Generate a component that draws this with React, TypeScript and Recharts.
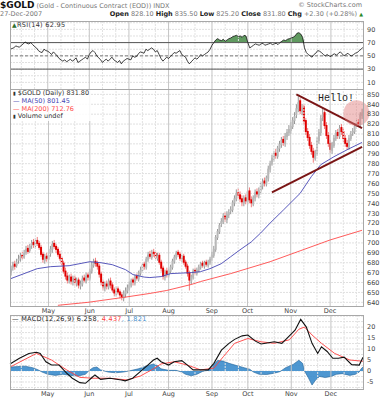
import React from 'react';
import { ComposedChart, Bar, Line, Area, XAxis, YAxis, CartesianGrid, ReferenceLine, ReferenceDot } from 'recharts';

// trading-day index of each month start shown on the x axis
const monthTicks = [20, 42, 63, 84, 107, 126, 149, 170];
const monthNames = ['May', 'Jun', 'Jul', 'Aug', 'Sep', 'Oct', 'Nov', 'Dec'];
const minorDays = [6, 13, 27, 34, 49, 56, 70, 77, 91, 98, 114, 121, 133, 140, 156, 163, 177, 184];

const priceTicks = [640, 650, 660, 670, 680, 690, 700, 710, 720, 730, 740, 750, 760, 770, 780, 790, 800, 810, 820, 830, 840, 850];
const rsiTicks = [10, 30, 50, 70, 90];
const rsiGrid = [10, 20, 30, 40, 50, 60, 70, 80, 90, 100];
const macdTicks = [-5, 0, 5, 10, 15, 20];
const macdGrid = [-7.5, -5, -2.5, 0, 2.5, 5, 7.5, 10, 12.5, 15, 17.5, 20, 22.5, 25];

// daily candles, Apr 2 .. Dec 27 2007
const opens = [
  670, 675, 679, 677, 682, 684, 688, 686, 690, 695, 692, 697, 701, 697, 703, 700, 696, 689, 682, 687,
  683, 689, 693, 700, 697, 694, 689, 685, 680, 672, 667, 661, 666, 660, 665, 659, 663, 656, 658, 665, 661, 668,
  664, 671, 677, 682, 680, 677, 669, 661, 654, 659, 655, 662, 658, 653, 648, 654, 651, 648, 644, 648, 651,
  654, 657, 663, 659, 667, 663, 669, 672, 679, 675, 683, 689, 685, 691, 690, 684, 688, 681, 675, 665, 672,
  667, 671, 675, 681, 685, 691, 689, 683, 687, 681, 677, 670, 661, 665, 673, 669, 672, 675, 680, 676, 681, 677, 680,
  685, 687, 693, 705, 711, 719, 721, 728, 723, 728, 732, 733, 740, 744, 751, 749, 745, 740, 746,
  741, 753, 744, 739, 745, 752, 748, 752, 757, 763, 759, 765, 774, 781, 785, 791, 787, 795, 799, 805, 800, 807, 811,
  813, 817, 823, 829, 835, 844, 832, 838, 824, 813, 807, 799, 793, 785, 791, 803, 811, 827, 832, 819, 809,
  801, 793, 798, 805, 812, 807, 817, 813, 806, 801, 796, 805, 811, 812, 817, 822, 819, 828.1,
];
const highs = [
  677, 681, 682, 684, 688, 690, 691, 693, 697, 698, 699, 703, 704, 705, 706, 702, 698, 691, 689, 690,
  691, 697, 702, 703, 699, 696, 692, 687, 682, 675, 670, 668, 669, 667, 667, 665, 665, 662, 667, 668, 670, 670,
  674, 681, 684, 685, 682, 679, 671, 663, 661, 662, 664, 665, 660, 655, 656, 656, 653, 650, 652, 655, 658,
  661, 664, 665, 668, 669, 672, 676, 680, 681, 686, 691, 692, 693, 694, 692, 690, 690, 683, 677, 673, 675,
  674, 678, 684, 688, 692, 693, 691, 688, 689, 683, 679, 672, 668, 674, 675, 675, 678, 681, 682, 682, 683, 683, 686,
  691, 697, 708, 714, 720, 725, 730, 731, 732, 734, 737, 743, 748, 754, 755, 752, 748, 748, 749,
  761, 756, 747, 748, 754, 755, 756, 761, 765, 766, 768, 778, 783, 789, 793, 795, 798, 803, 807, 808, 811, 815, 819,
  822, 827, 832, 840, 848, 846, 840, 840, 826, 816, 810, 802, 796, 794, 807, 815, 829, 837, 834, 822, 812,
  804, 802, 809, 814, 815, 819, 820, 816, 809, 804, 809, 813, 816, 821, 824, 825, 832, 835.5,
];
const lows = [
  667, 672, 673, 675, 679, 681, 683, 684, 688, 689, 690, 694, 695, 694, 697, 693, 686, 680, 679, 681,
  680, 686, 690, 694, 690, 686, 682, 677, 669, 663, 659, 659, 658, 657, 657, 656, 654, 653, 656, 660, 659, 662,
  662, 669, 675, 676, 673, 665, 657, 652, 651, 653, 653, 654, 650, 646, 646, 648, 644, 642, 641, 645, 649,
  652, 655, 657, 657, 662, 661, 667, 670, 673, 673, 681, 684, 683, 686, 683, 682, 678, 671, 663, 662, 665,
  665, 669, 673, 679, 683, 686, 682, 681, 678, 674, 666, 652, 658, 663, 668, 667, 670, 673, 675, 674, 676, 675, 678,
  682, 685, 691, 703, 709, 716, 719, 721, 720, 725, 729, 731, 737, 742, 745, 741, 737, 737, 739,
  738, 740, 736, 737, 742, 746, 745, 749, 754, 757, 757, 762, 771, 778, 782, 785, 785, 792, 796, 798, 797, 804, 808,
  810, 815, 820, 826, 832, 830, 829, 819, 809, 803, 795, 789, 781, 783, 788, 800, 808, 823, 815, 805, 797,
  791, 790, 796, 803, 805, 805, 809, 802, 797, 794, 794, 803, 808, 810, 815, 817, 817, 825.2,
];
const closes = [
  674, 678, 676, 681, 684, 687, 685, 690, 694, 691, 697, 700, 698, 702, 699, 695, 688, 683, 686, 684,
  688, 694, 699, 696, 693, 688, 684, 679, 671, 666, 662, 665, 661, 664, 660, 662, 657, 659, 664, 662, 667, 665,
  672, 678, 681, 679, 676, 668, 660, 655, 658, 656, 661, 657, 652, 649, 653, 650, 647, 645, 649, 652, 655,
  658, 662, 660, 666, 664, 670, 673, 678, 676, 684, 688, 686, 690, 689, 685, 687, 680, 674, 666, 671, 668,
  672, 676, 682, 686, 690, 688, 684, 686, 680, 676, 669, 662, 666, 672, 670, 673, 676, 679, 677, 680, 678, 681, 684,
  688, 694, 706, 712, 718, 722, 727, 724, 729, 731, 734, 741, 745, 750, 748, 744, 741, 745, 742,
  752, 743, 740, 746, 751, 749, 753, 758, 762, 760, 766, 775, 780, 786, 790, 788, 796, 800, 804, 801, 808, 812, 815,
  818, 824, 828, 836, 842, 833, 836, 822, 812, 806, 798, 792, 786, 790, 804, 812, 826, 830, 818, 808, 800,
  794, 799, 806, 811, 808, 816, 812, 805, 800, 797, 806, 810, 813, 818, 821, 820, 829.5, 831.8,
];

const rsiValues = [
  60, 61, 62, 65, 64, 63, 66, 68, 71, 69, 68, 70, 67, 64, 62, 58, 56, 55, 60, 58,
  57, 55, 52, 56, 53, 50, 46, 44, 42, 44, 41, 43, 45, 42, 44, 47, 40, 42, 44, 46, 48, 45,
  52, 56, 58, 55, 50, 47, 44, 40, 43, 45, 42, 45, 48, 44, 42, 40, 43, 38, 42, 44, 46,
  45, 44, 50, 48, 49, 53, 56, 55, 54, 60, 58, 60, 62, 60, 56, 58, 52, 46, 42, 45, 48,
  46, 49, 52, 55, 54, 56, 58, 52, 50, 48, 42, 38, 41, 44, 47, 45, 48, 52, 50, 52, 54, 56, 60,
  66, 70, 74, 76, 74, 73, 75, 72, 74, 76, 77, 79, 80, 81, 79, 80, 78, 81, 80,
  70, 62, 64, 66, 68, 67, 66, 68, 69, 66, 67, 68, 69, 67, 68, 69, 67, 70, 72, 74, 73, 75, 76,
  77, 78, 80, 84, 85, 83, 78, 62, 55, 52, 50, 48, 52, 54, 58, 57, 55, 52, 50, 52, 50,
  49, 52, 53, 51, 54, 56, 53, 50, 52, 54, 51, 50, 52, 54, 55, 58, 60, 62.95,
];

// [day index, value]
const ma50Pts = [[0, 664], [14, 674], [21, 676], [31, 677], [42, 681], [48, 680], [54, 678], [61, 673], [65, 668], [71, 665.5], [74, 665], [80, 666], [85, 669], [96, 670], [101, 671], [106, 674], [112, 679], [117, 686], [122, 693], [128, 701], [133, 710], [138, 720], [145, 733], [154, 750], [160, 767], [165, 779], [172, 787], [180, 795], [187, 801.45]];
const ma200Pts = [[25, 637], [41, 640], [60, 645], [74, 649], [83, 652], [96, 658], [101, 661], [117, 669], [138, 681], [154, 692], [170, 703], [187, 712.76]];
const macdPts = [[0, 3.2], [5, 5.8], [10, 8], [14, 8.5], [16, 8], [19, 4.2], [22, 2.7], [26, 2.7], [30, -1], [33, -3.3], [37, -5.3], [40, -5.6], [43, -3.3], [45, -1.8], [48, -3.8], [53, -3.3], [59, -4.1], [61, -4.5], [65, -3.3], [69, -0.3], [73, 2.7], [76, 5], [78, 5.8], [80, 4.2], [84, 2.7], [87, 4.2], [91, 4.7], [94, 2.7], [97, 0.5], [101, 0.5], [105, 0.5], [108, 3.5], [112, 9.5], [116, 12.6], [119, 14.4], [123, 16], [126, 16.4], [130, 13.6], [133, 12.3], [137, 12.9], [140, 13.3], [144, 12.6], [148, 16], [151, 18.6], [154, 23.5], [157, 20], [160, 12.6], [163, 8], [165, 11], [168, 8.9], [171, 5.8], [174, 5.8], [177, 6.3], [181, 2.9], [185, 2.7], [187, 6.258]];
const signalPts = [[0, 1.8], [14, 8], [22, 5], [30, 0.5], [37, -2.9], [44, -3.3], [53, -3.3], [62, -4.1], [69, -2.3], [75, 0.5], [80, 3.2], [87, 4.2], [94, 2.7], [101, 0.5], [108, 1.3], [113, 6.5], [119, 12.6], [126, 14.8], [133, 13.3], [140, 12.6], [148, 14.2], [153, 19], [156, 20], [160, 16.4], [165, 12.6], [172, 8], [180, 5], [187, 4.437]];
const histPts = [[0, 1.8], [4, 2], [8, 2.2], [12, 1.5], [15, 0.5], [17, -0.5], [20, -1.5], [24, -2], [28, -1.5], [32, -2], [36, -2.3], [40, -1.5], [42, 0.3], [44, 1.5], [46, 1.8], [48, 0.5], [52, -0.5], [56, -0.8], [60, -0.5], [64, 0.2], [68, 1], [72, 2.2], [76, 3.2], [78, 2.5], [80, 1], [84, 0.3], [88, 0.3], [91, -0.5], [93, -1.5], [96, -2.2], [99, -1.5], [102, -0.2], [105, 0.5], [108, 3], [110, 4.8], [113, 4.5], [116, 3.5], [120, 2.5], [124, 1.5], [127, 0.8], [129, -0.5], [132, -1.5], [136, -1.6], [140, -1], [143, -0.3], [146, 1.5], [150, 3], [153, 4.9], [155, 3.5], [156, 0], [158, -3], [160, -6.4], [162, -4], [164, -2.5], [167, -3], [170, -2.5], [173, -1.5], [176, -1.2], [180, -2], [183, -1.5], [185, -0.5], [186, 1], [187, 1.821]];

// triangle trendlines and the circled area
const upperTrend = [[152, 850], [187, 816]];
const lowerTrend = [[139, 751], [187, 797]];
const circleAt = [184, 831];

type Row = { [k: string]: number | undefined };
const rows: Row[] = closes.map((c, i) => ({
  i, o: opens[i], h: highs[i], l: lows[i], c, prev: i ? closes[i - 1] : opens[i], rsi: rsiValues[i],
}));
const put = (pts: number[][], key: string) => pts.forEach(([i, v]) => { rows[i][key] = v; });
put(ma50Pts, 'ma50');
put(ma200Pts, 'ma200');
put(macdPts, 'macd');
put(signalPts, 'signal');
put(histPts, 'hist');

const FONT = '"DejaVu Sans", Verdana, sans-serif';
const tickStyle = { fontSize: 6.5, fill: '#444', fontFamily: FONT };
const monthLabel = (v: number) => monthNames[monthTicks.indexOf(v)] ?? '';

const Candle = (props: any) => {
  const { x, y, width, height, payload } = props;
  const { o, h, l, c, prev } = payload;
  const span = h - l || 1;
  const py = (v: number) => y + ((h - v) / span) * height;
  const up = c >= prev;
  const hollow = c >= o;
  const cx = x + width / 2;
  const top = py(Math.max(o, c));
  const bot = py(Math.min(o, c));
  const bw = Math.max(width, 1.6);
  const body = hollow ? (up ? '#b8b8b8' : '#f2a8a8') : (up ? '#222' : '#e00000');
  return (
    <g>
      <line x1={cx} x2={cx} y1={y} y2={y + height} stroke={up ? '#8a8a8a' : '#f07070'} strokeWidth={0.9} />
      <rect x={cx - bw / 2} y={top} width={bw} height={Math.max(bot - top, 0.9)} fill={body} />
    </g>
  );
};

const vLines = () => [
  ...minorDays.map((d) => <ReferenceLine key={'m' + d} x={d} stroke="#e2e2e2" strokeDasharray="2 1" />),
  ...monthTicks.map((d) => <ReferenceLine key={'M' + d} x={d} stroke="#c4c4c4" />),
];

const frame = (top: number, height: number) => (
  <div style={{ position: 'absolute', left: 10, top, width: 354, height: height + 1, border: '1px solid #a8a8a8', boxSizing: 'border-box', pointerEvents: 'none' }} />
);

const t = (s: string, st: React.CSSProperties = {}) => <span style={st}>{s}</span>;

export default function App() {
  const bold = { fontWeight: 'bold', color: '#222' };
  return (
    <div style={{ position: 'absolute', left: 0, top: 0, width: 388, height: 400, background: '#fff', fontFamily: FONT, overflow: 'hidden' }}>
      {/* header */}
      <div style={{ position: 'absolute', left: 0, top: 0, fontSize: 6.5, color: '#777', whiteSpace: 'nowrap' }}>
        {t('$GOLD', { fontSize: 9, fontWeight: 'bold', color: '#111' })} (Gold - Continuous Contract (EOD)) INDX
      </div>
      <div style={{ position: 'absolute', right: 26, top: 1, fontSize: 6.5, color: '#777' }}>© StockCharts.com</div>
      <div style={{ position: 'absolute', left: 0, top: 10, fontSize: 6.5, color: '#777' }}>27-Dec-2007</div>
      <div style={{ position: 'absolute', right: 25, top: 10, fontSize: 6.5, color: '#777', whiteSpace: 'nowrap' }}>
        {t('Open', bold)} 828.10 {t('High', bold)} 835.50 {t('Low', bold)} 825.20 {t('Close', bold)} 831.80 {t('Chg', bold)} +2.30 (+0.28%) {t('▲', { color: '#2a8a2a', fontSize: 5 })}
      </div>

      {/* RSI panel */}
      <div style={{ position: 'absolute', left: 0, top: 21 }}>
        <ComposedChart width={388} height={68} data={rows} margin={{ top: 0, right: 0, bottom: 0, left: 10 }}>
          <XAxis dataKey="i" hide />
          <YAxis orientation="right" width={25} domain={[0, 102.6]} ticks={rsiTicks} interval={0} tick={tickStyle} tickLine={false} tickSize={2} tickMargin={2} axisLine={false} allowDataOverflow />
          <CartesianGrid horizontalValues={rsiGrid} vertical={false} stroke="#e0e0e0" strokeDasharray="2 1" />
          {vLines()}
          <ReferenceLine y={70} stroke="#555" />
          <ReferenceLine y={30} stroke="#555" />
          <ReferenceLine y={50} stroke="#777" strokeDasharray="3 2" />
          <Area dataKey={(d: Row) => [70, Math.max(70, d.rsi as number)]} stroke="none" fill="#4f8f4f" fillOpacity={0.9} isAnimationActive={false} />
          <Line dataKey="rsi" stroke="#111" strokeWidth={0.8} dot={false} isAnimationActive={false} />
        </ComposedChart>
      </div>
      {frame(21, 68)}
      <div style={{ position: 'absolute', left: 12, top: 21, fontSize: 6.5, color: '#333', letterSpacing: 0.3 }}>
        {t('▲', { color: '#2f6f2f', fontSize: 6 })}RSI(14) 62.95
      </div>

      {/* price panel */}
      <div style={{ position: 'absolute', left: 0, top: 89 }}>
        <ComposedChart width={388} height={229} data={rows} barCategoryGap={0} margin={{ top: 0, right: 0, bottom: 0, left: 10 }}>
          <XAxis dataKey="i" ticks={monthTicks} interval={0} tickFormatter={monthLabel} tick={tickStyle} height={12} tickLine={false} tickSize={0} tickMargin={2} axisLine={false} />
          <YAxis orientation="right" width={25} domain={[636.3, 855.4]} ticks={priceTicks} interval={0} tick={tickStyle} tickLine={false} tickSize={2} tickMargin={2} axisLine={false} allowDataOverflow />
          <CartesianGrid horizontalValues={priceTicks} vertical={false} stroke="#e0e0e0" strokeDasharray="2 1" />
          {vLines()}
          <Bar dataKey={(d: Row) => [d.l, d.h]} shape={Candle} isAnimationActive={false} />
          <Line dataKey="ma200" stroke="#ff4a4a" strokeWidth={0.9} dot={false} connectNulls isAnimationActive={false} />
          <Line dataKey="ma50" stroke="#4646b4" strokeWidth={0.9} dot={false} connectNulls isAnimationActive={false} />
          <ReferenceLine segment={[{ x: upperTrend[0][0], y: upperTrend[0][1] }, { x: upperTrend[1][0], y: upperTrend[1][1] }]} stroke="#7a1515" strokeWidth={2} />
          <ReferenceLine segment={[{ x: lowerTrend[0][0], y: lowerTrend[0][1] }, { x: lowerTrend[1][0], y: lowerTrend[1][1] }]} stroke="#7a1515" strokeWidth={2} />
          <ReferenceDot x={circleAt[0]} y={circleAt[1]} r={13} fill="#e07a7a" fillOpacity={0.45} stroke="none" />
        </ComposedChart>
      </div>
      {frame(89, 217)}
      <div style={{ position: 'absolute', left: 11, top: 90, fontSize: 6.5, lineHeight: '7.8px', background: 'rgba(255,255,255,0.85)', padding: '0 2px' }}>
        <div style={{ color: '#333' }}>{t('▮', { fontSize: 5 })} $GOLD (Daily) 831.80</div>
        <div style={{ color: '#4646b4' }}>— MA(50) 801.45</div>
        <div style={{ color: '#ff4a4a' }}>— MA(200) 712.76</div>
        <div style={{ color: '#333' }}>{t('▮', { fontSize: 5 })} Volume undef</div>
      </div>
      <div style={{ position: 'absolute', left: 318, top: 93, width: 46, fontSize: 10, lineHeight: '12px', fontFamily: '"Liberation Mono", "DejaVu Sans Mono", monospace', color: '#222', whiteSpace: 'nowrap' }}>Hello!</div>

      {/* MACD panel */}
      <div style={{ position: 'absolute', left: 0, top: 315 }}>
        <ComposedChart width={388} height={85} data={rows} margin={{ top: 0, right: 0, bottom: 0, left: 10 }}>
          <XAxis dataKey="i" ticks={monthTicks} interval={0} tickFormatter={monthLabel} tick={tickStyle} height={11} tickLine={false} tickSize={0} tickMargin={2} axisLine={false} />
          <YAxis orientation="right" width={25} domain={[-8.2, 25.5]} ticks={macdTicks} interval={0} tick={tickStyle} tickLine={false} tickSize={2} tickMargin={2} axisLine={false} allowDataOverflow />
          <CartesianGrid horizontalValues={macdGrid} vertical={false} stroke="#e0e0e0" strokeDasharray="2 1" />
          {vLines()}
          <Area dataKey="hist" baseValue={0} connectNulls stroke="#1f5f96" strokeWidth={0.6} fill="#3b8ccc" fillOpacity={0.9} isAnimationActive={false} />
          <Line dataKey="signal" stroke="#ff4040" strokeWidth={0.9} dot={false} connectNulls isAnimationActive={false} />
          <Line dataKey="macd" stroke="#111" strokeWidth={1.1} dot={false} connectNulls isAnimationActive={false} />
        </ComposedChart>
      </div>
      {frame(315, 74)}
      <div style={{ position: 'absolute', left: 12, top: 315, fontSize: 6.5, color: '#222', letterSpacing: 0.3, whiteSpace: 'nowrap' }}>
        — MACD(12,26,9) 6.258{t(', 4.437', { color: '#ff4040' })}{t(', 1.821', { color: '#3b8ccc' })}
      </div>
    </div>
  );
}
